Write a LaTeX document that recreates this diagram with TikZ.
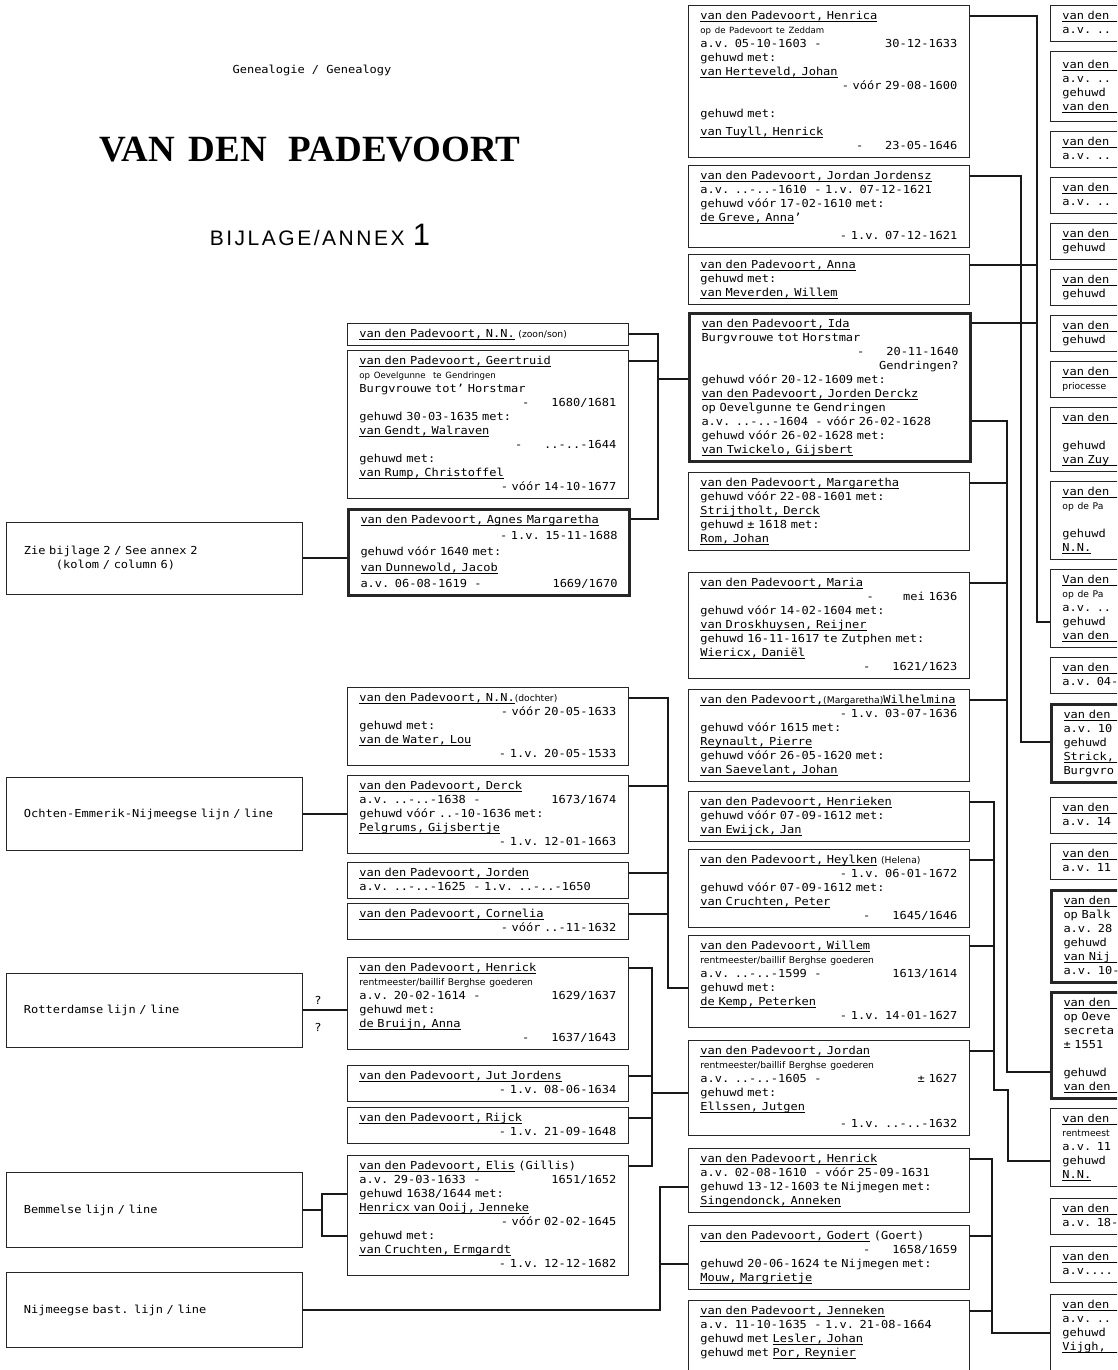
\documentclass[tikz,border=0pt]{standalone}
\usepackage{fontspec}
\newfontfamily\dm{DejaVu Sans Mono}[FakeStretch=1.09]
\newfontfamily\smf{DejaVu Sans}
\newfontfamily\bij{Liberation Sans}[LetterSpace=12]
\newfontfamily\ttlf{Liberation Serif}
\newcommand\mf{\dm\fontsize{11bp}{14bp}\selectfont}
\newcommand\sml{\smf\fontsize{8.6bp}{14bp}\selectfont}
\newcommand\smr{\smf\fontsize{9.2bp}{14bp}\selectfont}
\newcommand\uln[1]{\setbox0\hbox{#1}\leavevmode\rlap{\rule[-2.4bp]{\wd0}{0.7bp}}\box0\relax}
\tikzset{
  pbox/.style={draw=black!85, line width=0.8bp, anchor=north west, text width=257bp, inner xsep=12bp, inner ysep=4bp, align=left, font=\mf},
  mainbox/.style={pbox, line width=3bp},
  lbox/.style={draw=black!85, line width=0.8bp, anchor=west, text width=261bp, inner xsep=17.5bp, inner ysep=4bp, align=left, font=\mf},
  conn/.style={line width=2.6bp, black!90},
  ln/.style={yshift={-(11+14*#1)*1bp}}
}
\begin{document}
\begin{tikzpicture}[x=1bp,y=-1bp]
\useasboundingbox (0,0) rectangle (1117,1370);
\fill[white] (0,0) rectangle (1117,1370);
\clip (0,0) rectangle (1117,1370);

% ---------- title ----------
\node[font=\mf] (gen) at (312,70) {Genealogie / Genealogy};
\node[font=\ttlf\bfseries\fontsize{37bp}{40bp}\selectfont] (ttl) at (310,150) {VAN\hspace{14bp}DEN\hspace{22bp}PADEVOORT};
\node[font=\bij\fontsize{21bp}{24bp}\selectfont] (bij) at (320,235) {BIJLAGE/ANNEX {\fontsize{31bp}{31bp}\selectfont 1}};

% ---------- centre column ----------
\node[pbox] (c1) at (688,5) {\strut\uln{van den Padevoort, Henrica}\\
{\sml op de Padevoort te Zeddam}\\
a.v. 05-10-1603~~-\hfill 30-12-1633\\
gehuwd met:\\
\uln{van Herteveld, Johan}\\
\hfill - vóór 29-08-1600\\[14bp]
gehuwd met:\\[4bp]
\uln{van Tuyll, Henrick}\\
\hfill -~~~~~~23-05-1646\strut};

\node[pbox] (c2) at (688,165) {\strut\uln{van den Padevoort, Jordan Jordensz}\\
a.v. ..-..-1610~~- 1.v. 07-12-1621\\
gehuwd vóór 17-02-1610 met:\\
\uln{de Greve, Anna}’\\[4bp]
\hfill - 1.v. 07-12-1621\strut};

\node[pbox] (c3) at (688,254) {\strut\uln{van den Padevoort, Anna}\\
gehuwd met:\\
\uln{van Meverden, Willem}\strut};

\node[mainbox] (c4) at (688,312) {\strut\uln{van den Padevoort, Ida}\\
Burgvrouwe tot Horstmar\\
\hfill -~~~~~~20-11-1640\\
\hfill Gendringen?\\
gehuwd vóór 20-12-1609 met:\\
\uln{van den Padevoort, Jorden Derckz}\\
op Oevelgunne te Gendringen\\
a.v. ..-..-1604~~- vóór 26-02-1628\\
gehuwd vóór 26-02-1628 met:\\
\uln{van Twickelo, Gijsbert}\strut};

\node[pbox] (c5) at (688,472) {\strut\uln{van den Padevoort, Margaretha}\\
gehuwd vóór 22-08-1601 met:\\
\uln{Strijtholt, Derck}\\
gehuwd ± 1618 met:\\
\uln{Rom, Johan}\strut};

\node[pbox] (c6) at (688,572) {\strut\uln{van den Padevoort, Maria}\\
\hfill -~~~~~~~~mei 1636\\
gehuwd vóór 14-02-1604 met:\\
\uln{van Droskhuysen, Reijner}\\
gehuwd 16-11-1617 te Zutphen met:\\
\uln{Wiericx, Daniël}\\
\hfill -~~~~~~1621/1623\strut};

\node[pbox] (c7) at (688,689) {\strut\uln{van den Padevoort,{\smr(Margaretha)}Wilhelmina}\\
\hfill - 1.v. 03-07-1636\\
gehuwd vóór 1615 met:\\
\uln{Reynault, Pierre}\\
gehuwd vóór 26-05-1620 met:\\
\uln{van Saevelant, Johan}\strut};

\node[pbox] (c8) at (688,791) {\strut\uln{van den Padevoort, Henrieken}\\
gehuwd vóór 07-09-1612 met:\\
\uln{van Ewijck, Jan}\strut};

\node[pbox] (c9) at (688,849) {\strut\uln{van den Padevoort, Heylken} {\smr(Helena)}\\
\hfill - 1.v. 06-01-1672\\
gehuwd vóór 07-09-1612 met:\\
\uln{van Cruchten, Peter}\\
\hfill -~~~~~~1645/1646\strut};

\node[pbox] (c10) at (688,935) {\strut\uln{van den Padevoort, Willem}\\
{\smr rentmeester/baillif Berghse goederen}\\
a.v. ..-..-1599~~-\hfill 1613/1614\\
gehuwd met:\\
\uln{de Kemp, Peterken}\\
\hfill - 1.v. 14-01-1627\strut};

\node[pbox] (c11) at (688,1040) {\strut\uln{van den Padevoort, Jordan}\\
{\smr rentmeester/baillif Berghse goederen}\\
a.v. ..-..-1605~~-\hfill ± 1627~\\
gehuwd met:\\
\uln{Ellssen, Jutgen}\\[3bp]
\hfill - 1.v. ..-..-1632\strut};

\node[pbox] (c12) at (688,1148) {\strut\uln{van den Padevoort, Henrick}\\
a.v. 02-08-1610~~- vóór 25-09-1631\\
gehuwd 13-12-1603 te Nijmegen met:\\
\uln{Singendonck, Anneken}\strut};

\node[pbox] (c13) at (688,1225) {\strut\uln{van den Padevoort, Godert} (Goert)\\
\hfill -~~~~~~1658/1659\\
gehuwd 20-06-1624 te Nijmegen met:\\
\uln{Mouw, Margrietje}\strut};

\node[pbox] (c14) at (688,1300) {\strut\uln{van den Padevoort, Jenneken}\\
a.v. 11-10-1635~~- 1.v. 21-08-1664\\
gehuwd met \uln{Lesler, Johan}\\
gehuwd met \uln{Por, Reynier}\\
\mbox{}\strut};

% ---------- left column ----------
\node[pbox] (l1) at (347,323) {\strut\uln{van den Padevoort, N.N.} {\smr(zoon/son)}\strut};

\node[pbox] (l2) at (347,350) {\strut\uln{van den Padevoort, Geertruid}\\
{\sml op Oevelgunne~~te Gendringen}\\
Burgvrouwe tot’ Horstmar\\
\hfill -~~~~~~1680/1681\\
gehuwd 30-03-1635 met:\\
\uln{van Gendt, Walraven}\\
\hfill -~~~~~~..-..-1644\\
gehuwd met:\\
\uln{van Rump, Christoffel}\\
\hfill - vóór 14-10-1677\strut};

\node[mainbox] (l3) at (347,508) {\strut\uln{van den Padevoort, Agnes Margaretha}\\[2bp]
\hfill - 1.v. 15-11-1688\\[2bp]
gehuwd vóór 1640 met:\\[2bp]
\uln{van Dunnewold, Jacob}\\[2bp]
a.v. 06-08-1619~~-\hfill 1669/1670\strut};

\node[pbox] (l4) at (347,687) {\strut\uln{van den Padevoort, N.N.}{\smr(dochter)}\\
\hfill - vóór 20-05-1633\\
gehuwd met:\\
\uln{van de Water, Lou}\\
\hfill - 1.v. 20-05-1533\strut};

\node[pbox] (l5) at (347,775) {\strut\uln{van den Padevoort, Derck}\\
a.v. ..-..-1638~~-\hfill 1673/1674\\
gehuwd vóór ..-10-1636 met:\\
\uln{Pelgrums, Gijsbertje}\\
\hfill - 1.v. 12-01-1663\strut};

\node[pbox] (l6) at (347,862) {\strut\uln{van den Padevoort, Jorden}\\
a.v. ..-..-1625~~- 1.v. ..-..-1650\strut};

\node[pbox] (l7) at (347,903) {\strut\uln{van den Padevoort, Cornelia}\\
\hfill - vóór ..-11-1632\strut};

\node[pbox] (l8) at (347,957) {\strut\uln{van den Padevoort, Henrick}\\
{\smr rentmeester/baillif Berghse goederen}\\
a.v. 20-02-1614~~-\hfill 1629/1637\\
gehuwd met:\\
\uln{de Bruijn, Anna}\\
\hfill -~~~~~~1637/1643\strut};

\node[pbox] (l9) at (347,1065) {\strut\uln{van den Padevoort, Jut Jordens}\\
\hfill - 1.v. 08-06-1634\strut};

\node[pbox] (l10) at (347,1107) {\strut\uln{van den Padevoort, Rijck}\\
\hfill - 1.v. 21-09-1648\strut};

\node[pbox] (l11) at (347,1155) {\strut\uln{van den Padevoort, Elis} (Gillis)\\
a.v. 29-03-1633~~-\hfill 1651/1652\\
gehuwd 1638/1644 met:\\
\uln{Henricx van Ooij, Jenneke}\\
\hfill - vóór 02-02-1645\\
gehuwd met:\\
\uln{van Cruchten, Ermgardt}\\
\hfill - 1.v. 12-12-1682\strut};

% ---------- line boxes ----------
\node[lbox, minimum height=72bp] (z1) at (6,558) {Zie bijlage 2 / See annex 2\\\hspace*{32bp}(kolom / column 6)};
\node[lbox, minimum height=73bp] (z2) at (6,814) {\mbox{Ochten-Emmerik-Nijmeegse lijn / line}};
\node[lbox, minimum height=74bp] (z3) at (6,1010) {\mbox{Rotterdamse lijn / line}};
\node[lbox, minimum height=75bp] (z4) at (6,1210) {\mbox{Bemmelse lijn / line}};
\node[lbox, minimum height=75bp] (z5) at (6,1310) {\mbox{Nijmeegse bast. lijn / line}};
\node[font=\mf] (q1) at (318,1000) {?};
\node[font=\mf] (q2) at (318,1027) {?};

% ---------- right column (cut by the page edge) ----------
\node[pbox, minimum height=36bp] (r1) at (1050,5) {\strut\uln{van den\hspace*{20bp}}\\a.v. ..\strut};
\node[pbox, minimum height=70bp] (r2) at (1050,51) {\strut\uln{van den\hspace*{20bp}}\\a.v. ..\\gehuwd\\\uln{van den\hspace*{20bp}}\strut};
\node[pbox] (r3) at (1050,131) {\strut\uln{van den\hspace*{20bp}}\\a.v. ..\strut};
\node[pbox] (r4) at (1050,177) {\strut\uln{van den\hspace*{20bp}}\\a.v. ..\strut};
\node[pbox] (r5) at (1050,223) {\strut\uln{van den\hspace*{20bp}}\\gehuwd\strut};
\node[pbox] (r6) at (1050,269) {\strut\uln{van den\hspace*{20bp}}\\gehuwd\strut};
\node[pbox] (r7) at (1050,315) {\strut\uln{van den\hspace*{20bp}}\\gehuwd\strut};
\node[pbox] (r8) at (1050,361) {\strut\uln{van den\hspace*{20bp}}\\{\smr priocesse}\strut};
\node[pbox] (r9) at (1050,407) {\strut\uln{van den\hspace*{20bp}}\\\mbox{}\\gehuwd\\\uln{van Zuy\hspace*{20bp}}\strut};
\node[pbox] (r10) at (1050,481) {\strut\uln{van den\hspace*{20bp}}\\{\smr op de Pa}\\\mbox{}\\gehuwd\\\uln{N.N.}\strut};
\node[pbox] (r11) at (1050,569) {\strut\uln{Van den\hspace*{20bp}}\\{\smr op de Pa}\\a.v. ..\\gehuwd\\\uln{van den\hspace*{20bp}}\strut};
\node[pbox] (r12) at (1050,657) {\strut\uln{van den\hspace*{20bp}}\\a.v. 04-\strut};
\node[mainbox] (r13) at (1050,703) {\strut\uln{van den\hspace*{20bp}}\\a.v. 10\\gehuwd\\\uln{Strick,\hspace*{20bp}}\\Burgvro\strut};
\node[pbox] (r14) at (1050,797) {\strut\uln{van den\hspace*{20bp}}\\a.v. 14\strut};
\node[pbox] (r15) at (1050,843) {\strut\uln{van den\hspace*{20bp}}\\a.v. 11\strut};
\node[mainbox] (r16) at (1050,889) {\strut\uln{van den\hspace*{20bp}}\\op Balk\\a.v. 28\\gehuwd\\\uln{van Nij\hspace*{20bp}}\\a.v. 10-\strut};
\node[mainbox] (r17) at (1050,991) {\strut\uln{van den\hspace*{20bp}}\\op Oeve\\secreta\\± 1551\\\mbox{}\\gehuwd\\\uln{van den\hspace*{20bp}}\strut};
\node[pbox] (r18) at (1050,1108) {\strut\uln{van den\hspace*{20bp}}\\{\smr rentmeest}\\a.v. 11\\gehuwd\\\uln{N.N.}\strut};
\node[pbox] (r19) at (1050,1198) {\strut\uln{van den\hspace*{20bp}}\\a.v. 18-\strut};
\node[pbox] (r20) at (1050,1246) {\strut\uln{van den\hspace*{20bp}}\\a.v....\strut};
\node[pbox] (r21) at (1050,1294) {\strut\uln{van den\hspace*{20bp}}\\a.v. ..\\gehuwd\\\uln{Vijgh,\hspace*{20bp}}\\\mbox{}\\\mbox{}\strut};

% ---------- helper coordinates ----------
\coordinate (g1) at (658,0);
\coordinate (g2) at (668,0);
\coordinate (g3) at (652,0);
\coordinate (g4) at (660,0);
\coordinate (fk) at (322,0);
\coordinate (vA) at (1037,0);
\coordinate (vB) at (1021,0);
\coordinate (vC) at (1007,0);
\coordinate (vF) at (994,0);
\coordinate (vF2) at (1008,0);
\coordinate (vG) at (992,0);

\coordinate (l1a) at ([ln=0]l1.north east);
\coordinate (l2a) at ([ln=0]l2.north east);
\coordinate (l3a) at ([ln=0]l3.north east);
\coordinate (l4a) at ([ln=0]l4.north east);
\coordinate (l5a) at ([ln=0]l5.north east);
\coordinate (l6a) at ([ln=0]l6.north east);
\coordinate (l7a) at ([ln=0]l7.north east);
\coordinate (l8a) at ([ln=0]l8.north east);
\coordinate (l9a) at ([ln=0]l9.north east);
\coordinate (l10a) at ([ln=0]l10.north east);
\coordinate (l11a) at ([ln=0]l11.north east);
\coordinate (l11b) at ([ln=2]l11.north west);
\coordinate (l11c) at ([ln=5]l11.north west);
\coordinate (c4g) at ([ln=4]c4.north west);
\coordinate (c10g) at ([ln=3]c10.north west);
\coordinate (c11g) at ([ln=3]c11.north west);
\coordinate (c12g) at ([ln=2]c12.north west);
\coordinate (c13g) at ([ln=2]c13.north west);

\coordinate (c1a) at ([ln=0]c1.north east);
\coordinate (c2a) at ([ln=0]c2.north east);
\coordinate (c3a) at ([ln=0]c3.north east);
\coordinate (c4a) at ([ln=0]c4.north east);
\coordinate (c4h) at ([ln=7]c4.north east);
\coordinate (c5a) at ([ln=0]c5.north east);
\coordinate (c6a) at ([ln=0]c6.north east);
\coordinate (c7a) at ([ln=0]c7.north east);
\coordinate (c8a) at ([ln=0]c8.north east);
\coordinate (c9a) at ([ln=0]c9.north east);
\coordinate (c10a) at ([ln=0]c10.north east);
\coordinate (c11a) at ([ln=0]c11.north east);
\coordinate (c12a) at ([ln=0]c12.north east);
\coordinate (c13a) at ([ln=0]c13.north east);
\coordinate (c14a) at ([ln=0]c14.north east);
\coordinate (r11g) at ([ln=3]r11.north west);
\coordinate (r13g) at ([ln=2]r13.north west);
\coordinate (r17g) at ([ln=5]r17.north west);
\coordinate (r18g) at ([ln=3]r18.north west);
\coordinate (r21g) at ([ln=2]r21.north west);
\coordinate (jog) at (0,1090);

% ---------- connectors: line boxes -> left column ----------
\draw[conn] (z1.east) -- (z1.east -| l3.west);
\draw[conn] (z2.east) -- (z2.east -| l5.west);
\draw[conn] (z3.east) -- (z3.east -| l8.west);
\draw[conn] (z4.east) -- (z4.east -| fk);
\draw[conn] (l11b) -- (l11b -| fk) -- (l11c -| fk) -- (l11c);

% ---------- connectors: left column -> centre column ----------
\draw[conn] (l1a) -- (l1a -| g1) -- (l3a -| g1) -- (l3a);
\draw[conn] (l2a) -- (l2a -| g1);
\draw[conn] (c4g -| g1) -- (c4g);

\draw[conn] (l4a) -- (l4a -| g2) -- (c10g -| g2) -- (c10g);
\draw[conn] (l5a) -- (l5a -| g2);
\draw[conn] (l6a) -- (l6a -| g2);
\draw[conn] (l7a) -- (l7a -| g2);

\draw[conn] (l8a) -- (l8a -| g3) -- (l11a -| g3) -- (l11a);
\draw[conn] (l9a) -- (l9a -| g3);
\draw[conn] (l10a) -- (l10a -| g3);
\draw[conn] (c11g -| g3) -- (c11g);

\draw[conn] (c12g) -- (c12g -| g4) -- (z5.east -| g4) -- (z5.east);
\draw[conn] (c13g) -- (c13g -| g4);

% ---------- connectors: centre column -> right column ----------
\draw[conn] (c1a) -- (c1a -| vA) -- (r11g -| vA) -- (r11g);
\draw[conn] (c3a) -- (c3a -| vA);
\draw[conn] (c4a) -- (c4a -| vA);

\draw[conn] (c2a) -- (c2a -| vB) -- (r13g -| vB) -- (r13g);

\draw[conn] (c4h) -- (c4h -| vC) -- (r17g -| vC) -- (r17g);
\draw[conn] (c5a) -- (c5a -| vC);
\draw[conn] (c6a) -- (c6a -| vC);
\draw[conn] (c7a) -- (c7a -| vC);

\draw[conn] (c8a) -- (c8a -| vF) -- (jog -| vF) -- (jog -| vF2) -- (r18g -| vF2) -- (r18g);
\draw[conn] (c9a) -- (c9a -| vF);
\draw[conn] (c10a) -- (c10a -| vF);
\draw[conn] (c11a) -- (c11a -| vF);

\draw[conn] (c12a) -- (c12a -| vG) -- (r21g -| vG) -- (r21g);
\draw[conn] (c13a) -- (c13a -| vG);
\draw[conn] (c14a) -- (c14a -| vG);
\end{tikzpicture}
\end{document}
